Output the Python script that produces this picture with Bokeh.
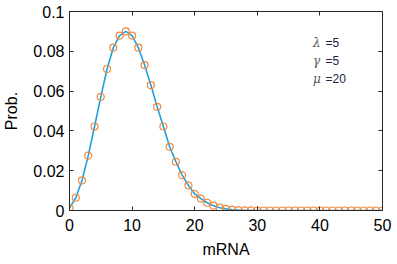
from bokeh.plotting import figure
from bokeh.models import Range1d, LinearAxis, FixedTicker, CustomJSTickFormatter, Label
from bokeh.embed import file_html
from bokeh.resources import INLINE

# data
mrna = list(range(0, 51))
prob = [0.0012, 0.0064, 0.0151, 0.0276, 0.0422, 0.0571, 0.0711, 0.0818, 0.0879, 0.0900,
        0.0879, 0.0818, 0.0731, 0.0630, 0.0521, 0.0422, 0.0320, 0.0245, 0.0178, 0.0126,
        0.0084, 0.0060, 0.0039, 0.0024, 0.0014, 0.0008, 0.0004, 0.0002, 0.0001, 0.0001] + [0.0] * 21
x_ticks = [0, 10, 20, 30, 40, 50]
y_ticks = [0, 0.02, 0.04, 0.06, 0.08, 0.1]
param_symbols = ["λ", "γ", "μ"]
param_values = ["=5", "=5", "=20"]

AX = "#262626"
FONT = "Liberation Sans"

p = figure(width=397, height=264, output_backend="svg", toolbar_location=None,
           x_range=Range1d(0, 50), y_range=Range1d(0, 0.1),
           min_border_left=69, min_border_right=15, min_border_top=11, min_border_bottom=54)
p.grid.visible = False
p.outline_line_color = AX
p.outline_line_width = 1
p.background_fill_color = "white"
p.border_fill_color = "white"

fmt = CustomJSTickFormatter(code="var s = tick.toFixed(2); s = s.replace(/0+$/, '').replace(/\\.$/, ''); return s;")
blank = CustomJSTickFormatter(code="return '';")

for ax in p.xaxis:
    ax.ticker = FixedTicker(ticks=x_ticks)
    ax.axis_label = "mRNA"
    ax.major_label_standoff = 8
    ax.axis_label_standoff = 7
for ax in p.yaxis:
    ax.ticker = FixedTicker(ticks=y_ticks)
    ax.formatter = fmt
    ax.axis_label = "Prob."
    ax.major_label_standoff = 5
    ax.axis_label_standoff = 10

for ax in list(p.xaxis) + list(p.yaxis):
    ax.major_tick_in = 4
    ax.major_tick_out = 0
    ax.minor_tick_in = 0
    ax.minor_tick_out = 0
    ax.axis_line_color = AX
    ax.major_tick_line_color = AX
    ax.major_label_text_font = FONT
    ax.major_label_text_font_size = "16px"
    ax.major_label_text_color = "black"
    ax.axis_label_text_font = FONT
    ax.axis_label_text_font_size = "16px"
    ax.axis_label_text_font_style = "normal"
    ax.axis_label_text_color = "black"

top = LinearAxis(ticker=FixedTicker(ticks=x_ticks), formatter=blank,
                 major_tick_in=4, major_tick_out=0, minor_tick_in=0, minor_tick_out=0,
                 axis_line_color=AX, major_tick_line_color=AX, major_label_standoff=0)
right = LinearAxis(ticker=FixedTicker(ticks=y_ticks), formatter=blank,
                   major_tick_in=4, major_tick_out=0, minor_tick_in=0, minor_tick_out=0,
                   axis_line_color=AX, major_tick_line_color=AX, major_label_standoff=0)
p.add_layout(top, "above")
p.add_layout(right, "right")

p.line(mrna, prob, line_color="#1EA0E0", line_width=1.6)
p.scatter(mrna, prob, marker="circle", size=7, fill_color=None,
          line_color="#F0893A", line_width=1.2)

sym_x = 38.9
val_x = 40.9
y0 = 0.0843
dy = 0.009
for i, (s, v) in enumerate(zip(param_symbols, param_values)):
    yy = y0 - i * dy
    p.add_layout(Label(x=sym_x, y=yy, text=s, text_font="DejaVu Serif", text_font_style="italic",
                       text_font_size="12px", text_color="#555555", text_baseline="middle"))
    p.add_layout(Label(x=val_x, y=yy, text=v, text_font=FONT,
                       text_font_size="12px", text_color="#1a2440", text_baseline="middle"))

open("out.html", "w").write(file_html(p, INLINE))
